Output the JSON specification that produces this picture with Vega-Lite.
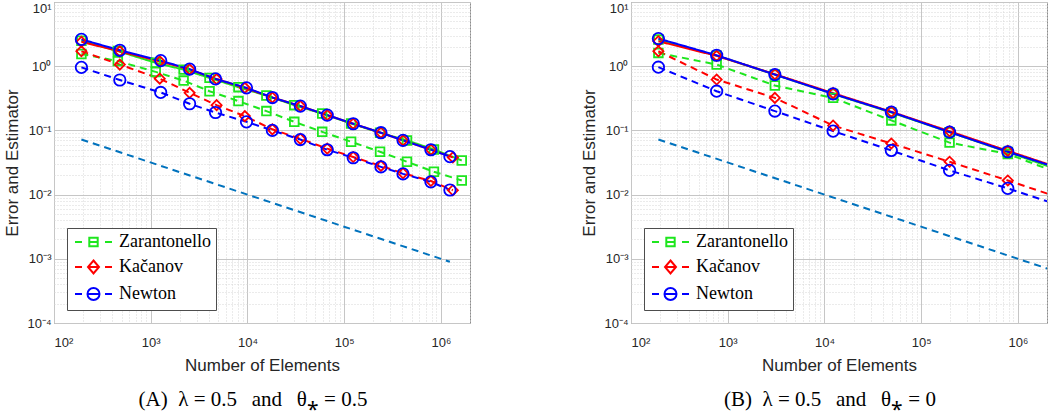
{
  "$schema": "https://vega.github.io/schema/vega-lite/v6.json",
  "padding": {"left": 3, "top": 1, "right": 2, "bottom": 2},
  "background": "white",
  "config": {
    "view": {"stroke": "#8c8c8c", "strokeWidth": 1},
    "axis": {
      "labelFont": "Liberation Sans", "labelFontSize": 13, "labelColor": "#262626",
      "titleFont": "Liberation Sans", "titleFontSize": 17, "titleFontWeight": "normal", "titleColor": "#262626",
      "domain": false, "ticks": false
    }
  },
  "datasets": {
    "A": [
      {"m":"ref","k":"ref","n":192,"v":0.0722},{"m":"ref","k":"ref","n":1240000,"v":0.000898},
      {"m":"Zarantonello","k":"err","n":192,"v":1.55},{"m":"Zarantonello","k":"err","n":457,"v":1.2},{"m":"Zarantonello","k":"err","n":1127,"v":0.815},{"m":"Zarantonello","k":"err","n":2188,"v":0.597},{"m":"Zarantonello","k":"err","n":4055,"v":0.408},{"m":"Zarantonello","k":"err","n":8070,"v":0.286},{"m":"Zarantonello","k":"err","n":15700,"v":0.2},{"m":"Zarantonello","k":"err","n":30500,"v":0.136},{"m":"Zarantonello","k":"err","n":59300,"v":0.095},{"m":"Zarantonello","k":"err","n":118000,"v":0.0665},{"m":"Zarantonello","k":"err","n":235000,"v":0.0465},{"m":"Zarantonello","k":"err","n":446000,"v":0.0325},{"m":"Zarantonello","k":"err","n":847000,"v":0.0227},{"m":"Zarantonello","k":"err","n":1644000,"v":0.0166},
      {"m":"Zarantonello","k":"est","n":192,"v":2.5},{"m":"Zarantonello","k":"est","n":457,"v":1.72},{"m":"Zarantonello","k":"est","n":1127,"v":1.13},{"m":"Zarantonello","k":"est","n":2188,"v":0.885},{"m":"Zarantonello","k":"est","n":4055,"v":0.658},{"m":"Zarantonello","k":"est","n":8070,"v":0.471},{"m":"Zarantonello","k":"est","n":15700,"v":0.349},{"m":"Zarantonello","k":"est","n":30500,"v":0.247},{"m":"Zarantonello","k":"est","n":59300,"v":0.183},{"m":"Zarantonello","k":"est","n":118000,"v":0.128},{"m":"Zarantonello","k":"est","n":235000,"v":0.092},{"m":"Zarantonello","k":"est","n":446000,"v":0.0697},{"m":"Zarantonello","k":"est","n":847000,"v":0.0505},{"m":"Zarantonello","k":"est","n":1644000,"v":0.034},
      {"m":"Kačanov","k":"err","n":192,"v":1.71},{"m":"Kačanov","k":"err","n":479,"v":1.06},{"m":"Kačanov","k":"err","n":1240,"v":0.64},{"m":"Kačanov","k":"err","n":2524,"v":0.385},{"m":"Kačanov","k":"err","n":4800,"v":0.247},{"m":"Kačanov","k":"err","n":9400,"v":0.167},{"m":"Kačanov","k":"err","n":18100,"v":0.104},{"m":"Kačanov","k":"err","n":35200,"v":0.074},{"m":"Kačanov","k":"err","n":66800,"v":0.052},{"m":"Kačanov","k":"err","n":124000,"v":0.0385},{"m":"Kačanov","k":"err","n":240000,"v":0.028},{"m":"Kačanov","k":"err","n":406000,"v":0.0215},{"m":"Kačanov","k":"err","n":788000,"v":0.0163},{"m":"Kačanov","k":"err","n":1330000,"v":0.0117},
      {"m":"Kačanov","k":"est","n":192,"v":2.4},{"m":"Kačanov","k":"est","n":479,"v":1.7},{"m":"Kačanov","k":"est","n":1240,"v":1.19},{"m":"Kačanov","k":"est","n":2524,"v":0.89},{"m":"Kačanov","k":"est","n":4800,"v":0.63},{"m":"Kačanov","k":"est","n":9400,"v":0.46},{"m":"Kačanov","k":"est","n":18100,"v":0.325},{"m":"Kačanov","k":"est","n":35200,"v":0.24},{"m":"Kačanov","k":"est","n":66800,"v":0.173},{"m":"Kačanov","k":"est","n":124000,"v":0.127},{"m":"Kačanov","k":"est","n":240000,"v":0.092},{"m":"Kačanov","k":"est","n":406000,"v":0.07},{"m":"Kačanov","k":"est","n":788000,"v":0.05},{"m":"Kačanov","k":"est","n":1330000,"v":0.038},
      {"m":"Newton","k":"err","n":192,"v":0.96},{"m":"Newton","k":"err","n":479,"v":0.61},{"m":"Newton","k":"err","n":1268,"v":0.39},{"m":"Newton","k":"err","n":2524,"v":0.26},{"m":"Newton","k":"err","n":4677,"v":0.19},{"m":"Newton","k":"err","n":9772,"v":0.136},{"m":"Newton","k":"err","n":18100,"v":0.1},{"m":"Newton","k":"err","n":35200,"v":0.072},{"m":"Newton","k":"err","n":66800,"v":0.05},{"m":"Newton","k":"err","n":124000,"v":0.0375},{"m":"Newton","k":"err","n":240000,"v":0.027},{"m":"Newton","k":"err","n":406000,"v":0.021},{"m":"Newton","k":"err","n":788000,"v":0.0158},{"m":"Newton","k":"err","n":1240000,"v":0.0118},
      {"m":"Newton","k":"est","n":192,"v":2.62},{"m":"Newton","k":"est","n":479,"v":1.77},{"m":"Newton","k":"est","n":1268,"v":1.22},{"m":"Newton","k":"est","n":2524,"v":0.9},{"m":"Newton","k":"est","n":4677,"v":0.634},{"m":"Newton","k":"est","n":9772,"v":0.46},{"m":"Newton","k":"est","n":18100,"v":0.325},{"m":"Newton","k":"est","n":35200,"v":0.239},{"m":"Newton","k":"est","n":66800,"v":0.173},{"m":"Newton","k":"est","n":124000,"v":0.127},{"m":"Newton","k":"est","n":240000,"v":0.092},{"m":"Newton","k":"est","n":406000,"v":0.07},{"m":"Newton","k":"est","n":788000,"v":0.05},{"m":"Newton","k":"est","n":1240000,"v":0.039}
    ],
    "B": [
      {"m":"ref","k":"ref","n":192,"v":0.0722},{"m":"ref","k":"ref","n":3145728,"v":0.000564},
      {"m":"Zarantonello","k":"err","n":192,"v":1.61},{"m":"Zarantonello","k":"err","n":768,"v":1.06},{"m":"Zarantonello","k":"err","n":3072,"v":0.5},{"m":"Zarantonello","k":"err","n":12288,"v":0.321},{"m":"Zarantonello","k":"err","n":49152,"v":0.143},{"m":"Zarantonello","k":"err","n":196608,"v":0.0645},{"m":"Zarantonello","k":"err","n":786432,"v":0.043},{"m":"Zarantonello","k":"err","n":3145728,"v":0.0195},
      {"m":"Zarantonello","k":"est","n":192,"v":2.6},{"m":"Zarantonello","k":"est","n":768,"v":1.46},{"m":"Zarantonello","k":"est","n":3072,"v":0.74},{"m":"Zarantonello","k":"est","n":12288,"v":0.37},{"m":"Zarantonello","k":"est","n":49152,"v":0.19},{"m":"Zarantonello","k":"est","n":196608,"v":0.094},{"m":"Zarantonello","k":"est","n":786432,"v":0.046},{"m":"Zarantonello","k":"est","n":3145728,"v":0.022},
      {"m":"Kačanov","k":"err","n":192,"v":1.71},{"m":"Kačanov","k":"err","n":768,"v":0.62},{"m":"Kačanov","k":"err","n":3072,"v":0.321},{"m":"Kačanov","k":"err","n":12288,"v":0.119},{"m":"Kačanov","k":"err","n":49152,"v":0.0625},{"m":"Kačanov","k":"err","n":196608,"v":0.0325},{"m":"Kačanov","k":"err","n":786432,"v":0.0166},{"m":"Kačanov","k":"err","n":3145728,"v":0.0083},
      {"m":"Kačanov","k":"est","n":192,"v":2.45},{"m":"Kačanov","k":"est","n":768,"v":1.45},{"m":"Kačanov","k":"est","n":3072,"v":0.75},{"m":"Kačanov","k":"est","n":12288,"v":0.38},{"m":"Kačanov","k":"est","n":49152,"v":0.195},{"m":"Kačanov","k":"est","n":196608,"v":0.097},{"m":"Kačanov","k":"est","n":786432,"v":0.048},{"m":"Kačanov","k":"est","n":3145728,"v":0.024},
      {"m":"Newton","k":"err","n":192,"v":0.965},{"m":"Newton","k":"err","n":768,"v":0.408},{"m":"Newton","k":"err","n":3072,"v":0.2},{"m":"Newton","k":"err","n":12288,"v":0.0975},{"m":"Newton","k":"err","n":49152,"v":0.0487},{"m":"Newton","k":"err","n":196608,"v":0.0238},{"m":"Newton","k":"err","n":786432,"v":0.0125},{"m":"Newton","k":"err","n":3145728,"v":0.0063},
      {"m":"Newton","k":"est","n":192,"v":2.69},{"m":"Newton","k":"est","n":768,"v":1.48},{"m":"Newton","k":"est","n":3072,"v":0.74},{"m":"Newton","k":"est","n":12288,"v":0.371},{"m":"Newton","k":"est","n":49152,"v":0.193},{"m":"Newton","k":"est","n":196608,"v":0.094},{"m":"Newton","k":"est","n":786432,"v":0.0465},{"m":"Newton","k":"est","n":3145728,"v":0.0236}
    ]
  },
  "spacing": 100,
  "resolve": {
    "scale": {"x": "independent", "y": "independent", "color": "independent", "shape": "independent", "size": "independent", "strokeDash": "independent"},
    "legend": {"color": "independent", "shape": "independent"}
  },
  "hconcat": [
    {
      "width": 416, "height": 321,
      "data": {"name": "A"},
      "title": {"text": "(A)\u2002λ\u2005=\u20050.5\u2002\u2009and\u2002\u2009θ⁎\u2005=\u20050.5", "orient": "bottom", "anchor": "middle", "font": "Liberation Serif", "fontSize": 21, "fontWeight": "normal", "color": "#000000", "offset": 16, "dx": -9},
      "resolve": {
        "scale": {"color": "independent", "shape": "independent", "size": "independent", "strokeDash": "independent"},
        "axis": {"x": "independent", "y": "independent"},
        "legend": {"color": "independent", "shape": "independent"}
      },
      "layer": [
        {
          "mark": {"type": "line", "strokeWidth": 2, "clip": true},
          "encoding": {
            "x": {"field": "n", "type": "quantitative", "scale": {"type": "log", "domain": [100, 2000000], "nice": false},
                  "axis": {"orient": "bottom", "values": [100, 1000, 10000, 100000, 1000000], "grid": true, "gridColor": "#c6c6c6", "gridWidth": 1, "labelPadding": 13, "titlePadding": 8, "title": "Number of Elements",
                           "labelExpr": "datum.value < 500 ? '10²' : datum.value < 5000 ? '10³' : datum.value < 50000 ? '10⁴' : datum.value < 500000 ? '10⁵' : '10⁶'"}},
            "y": {"field": "v", "type": "quantitative", "scale": {"type": "log", "domain": [0.0001, 10], "nice": false},
                  "axis": {"orient": "left", "values": [0.0001, 0.001, 0.01, 0.1, 1, 10], "grid": true, "gridColor": "#c6c6c6", "gridWidth": 1, "labelPadding": 3, "titlePadding": 5, "title": "Error and Estimator",
                           "labelBaseline": {"condition": {"test": "datum.value > 5", "value": "top"}, "value": "middle"},
                           "labelExpr": "datum.value < 0.0005 ? '10⁻⁴' : datum.value < 0.005 ? '10⁻³' : datum.value < 0.05 ? '10⁻²' : datum.value < 0.5 ? '10⁻¹' : datum.value < 5 ? '10⁰' : '10¹'"}},
            "color": {"field": "m", "type": "nominal", "scale": {"domain": ["Zarantonello", "Kačanov", "Newton", "ref"], "range": ["#1ee61e", "#ff0000", "#0000ff", "#0072bd"]}, "legend": null},
            "strokeDash": {"field": "k", "type": "nominal", "scale": {"domain": ["est", "err", "ref"], "range": [[1, 0], [7, 5], [7, 5]]}, "legend": null}
          }
        },
        {
          "transform": [{"filter": "datum.k != 'ref'"}],
          "mark": {"type": "point", "filled": false, "strokeWidth": 1.8, "opacity": 1, "clip": true},
          "encoding": {
            "x": {"field": "n", "type": "quantitative", "scale": {"type": "log", "domain": [100, 2000000], "nice": false},
                  "axis": {"orient": "bottom", "values": [200,300,400,500,600,700,800,900,2000,3000,4000,5000,6000,7000,8000,9000,20000,30000,40000,50000,60000,70000,80000,90000,200000,300000,400000,500000,600000,700000,800000,900000,2000000], "grid": true, "gridColor": "#d6d6d6", "gridDash": [1, 2], "labels": false, "title": null}},
            "y": {"field": "v", "type": "quantitative", "scale": {"type": "log", "domain": [0.0001, 10], "nice": false},
                  "axis": {"orient": "left", "values": [0.0002,0.0003,0.0004,0.0005,0.0006,0.0007,0.0008,0.0009,0.002,0.003,0.004,0.005,0.006,0.007,0.008,0.009,0.02,0.03,0.04,0.05,0.06,0.07,0.08,0.09,0.2,0.3,0.4,0.5,0.6,0.7,0.8,0.9,2,3,4,5,6,7,8,9], "grid": true, "gridColor": "#d6d6d6", "gridDash": [1, 2], "labels": false, "title": null}},
            "color": {"field": "m", "type": "nominal", "scale": {"domain": ["Zarantonello", "Kačanov", "Newton"], "range": ["#1ee61e", "#ff0000", "#0000ff"]}, "legend": null},
            "shape": {"field": "m", "type": "nominal", "scale": {"domain": ["Zarantonello", "Kačanov", "Newton"], "range": ["square", "diamond", "circle"]}, "legend": null},
            "size": {"field": "m", "type": "nominal", "scale": {"domain": ["Zarantonello", "Kačanov", "Newton"], "range": [75, 130, 150]}, "legend": null}
          }
        },
        {
          "transform": [{"filter": "datum.k == 'est'"}],
          "mark": {"type": "point", "filled": false, "opacity": 0, "strokeWidth": 2},
          "encoding": {
            "x": {"field": "n", "type": "quantitative", "axis": null},
            "y": {"field": "v", "type": "quantitative", "axis": null},
            "color": {"field": "m", "type": "nominal", "scale": {"domain": ["Zarantonello", "Kačanov", "Newton"], "range": ["#1ee61e", "#ff0000", "#0000ff"]},
                      "legend": {"title": null, "orient": "bottom-left", "offset": 13, "padding": 5, "fillColor": "white", "strokeColor": "#4d4d4d", "symbolSize": 100, "symbolStrokeWidth": 2, "symbolOpacity": 1, "labelFont": "Liberation Serif", "labelFontSize": 18, "labelColor": "#000000", "labelOffset": 29, "rowPadding": 5, "labelLimit": 300}},
            "shape": {"field": "m", "type": "nominal", "scale": {"domain": ["Zarantonello", "Kačanov", "Newton"], "range": [
                "M-1.2,0H0.2M1.66,0H3.34M4.8,0H6.2M1.66,-0.84H3.34V0.84H1.66Z",
                "M-1.2,0H0.2M1.4,0H3.6M4.8,0H6.2M2.5,-1.3L3.6,0L2.5,1.3L1.4,0Z",
                "M-1.2,0H0.2M1.3,0H3.7M4.8,0H6.2M3.7,0A1.2,1.2,0,1,1,1.3,0A1.2,1.2,0,1,1,3.7,0Z"]},
                      "legend": {"title": null, "orient": "bottom-left", "offset": 13, "padding": 5, "fillColor": "white", "strokeColor": "#4d4d4d", "symbolSize": 100, "symbolStrokeWidth": 2, "symbolOpacity": 1, "labelFont": "Liberation Serif", "labelFontSize": 18, "labelColor": "#000000", "labelOffset": 29, "rowPadding": 5, "labelLimit": 300}}
          }
        }
      ]
    },
    {
      "width": 416, "height": 321,
      "data": {"name": "B"},
      "title": {"text": "(B)\u2002λ\u2005=\u20050.5\u2002\u2009and\u2002\u2009θ⁎\u2005=\u20050", "orient": "bottom", "anchor": "middle", "font": "Liberation Serif", "fontSize": 21, "fontWeight": "normal", "color": "#000000", "offset": 16, "dx": -9},
      "resolve": {
        "scale": {"color": "independent", "shape": "independent", "size": "independent", "strokeDash": "independent"},
        "axis": {"x": "independent", "y": "independent"},
        "legend": {"color": "independent", "shape": "independent"}
      },
      "layer": [
        {
          "mark": {"type": "line", "strokeWidth": 2, "clip": true},
          "encoding": {
            "x": {"field": "n", "type": "quantitative", "scale": {"type": "log", "domain": [100, 2000000], "nice": false},
                  "axis": {"orient": "bottom", "values": [100, 1000, 10000, 100000, 1000000], "grid": true, "gridColor": "#c6c6c6", "gridWidth": 1, "labelPadding": 13, "titlePadding": 8, "title": "Number of Elements",
                           "labelExpr": "datum.value < 500 ? '10²' : datum.value < 5000 ? '10³' : datum.value < 50000 ? '10⁴' : datum.value < 500000 ? '10⁵' : '10⁶'"}},
            "y": {"field": "v", "type": "quantitative", "scale": {"type": "log", "domain": [0.0001, 10], "nice": false},
                  "axis": {"orient": "left", "values": [0.0001, 0.001, 0.01, 0.1, 1, 10], "grid": true, "gridColor": "#c6c6c6", "gridWidth": 1, "labelPadding": 3, "titlePadding": 5, "title": "Error and Estimator",
                           "labelBaseline": {"condition": {"test": "datum.value > 5", "value": "top"}, "value": "middle"},
                           "labelExpr": "datum.value < 0.0005 ? '10⁻⁴' : datum.value < 0.005 ? '10⁻³' : datum.value < 0.05 ? '10⁻²' : datum.value < 0.5 ? '10⁻¹' : datum.value < 5 ? '10⁰' : '10¹'"}},
            "color": {"field": "m", "type": "nominal", "scale": {"domain": ["Zarantonello", "Kačanov", "Newton", "ref"], "range": ["#1ee61e", "#ff0000", "#0000ff", "#0072bd"]}, "legend": null},
            "strokeDash": {"field": "k", "type": "nominal", "scale": {"domain": ["est", "err", "ref"], "range": [[1, 0], [7, 5], [7, 5]]}, "legend": null}
          }
        },
        {
          "transform": [{"filter": "datum.k != 'ref'"}],
          "mark": {"type": "point", "filled": false, "strokeWidth": 1.8, "opacity": 1, "clip": true},
          "encoding": {
            "x": {"field": "n", "type": "quantitative", "scale": {"type": "log", "domain": [100, 2000000], "nice": false},
                  "axis": {"orient": "bottom", "values": [200,300,400,500,600,700,800,900,2000,3000,4000,5000,6000,7000,8000,9000,20000,30000,40000,50000,60000,70000,80000,90000,200000,300000,400000,500000,600000,700000,800000,900000,2000000], "grid": true, "gridColor": "#d6d6d6", "gridDash": [1, 2], "labels": false, "title": null}},
            "y": {"field": "v", "type": "quantitative", "scale": {"type": "log", "domain": [0.0001, 10], "nice": false},
                  "axis": {"orient": "left", "values": [0.0002,0.0003,0.0004,0.0005,0.0006,0.0007,0.0008,0.0009,0.002,0.003,0.004,0.005,0.006,0.007,0.008,0.009,0.02,0.03,0.04,0.05,0.06,0.07,0.08,0.09,0.2,0.3,0.4,0.5,0.6,0.7,0.8,0.9,2,3,4,5,6,7,8,9], "grid": true, "gridColor": "#d6d6d6", "gridDash": [1, 2], "labels": false, "title": null}},
            "color": {"field": "m", "type": "nominal", "scale": {"domain": ["Zarantonello", "Kačanov", "Newton"], "range": ["#1ee61e", "#ff0000", "#0000ff"]}, "legend": null},
            "shape": {"field": "m", "type": "nominal", "scale": {"domain": ["Zarantonello", "Kačanov", "Newton"], "range": ["square", "diamond", "circle"]}, "legend": null},
            "size": {"field": "m", "type": "nominal", "scale": {"domain": ["Zarantonello", "Kačanov", "Newton"], "range": [75, 130, 150]}, "legend": null}
          }
        },
        {
          "transform": [{"filter": "datum.k == 'est'"}],
          "mark": {"type": "point", "filled": false, "opacity": 0, "strokeWidth": 2, "clip": true},
          "encoding": {
            "x": {"field": "n", "type": "quantitative", "axis": null},
            "y": {"field": "v", "type": "quantitative", "axis": null},
            "color": {"field": "m", "type": "nominal", "scale": {"domain": ["Zarantonello", "Kačanov", "Newton"], "range": ["#1ee61e", "#ff0000", "#0000ff"]},
                      "legend": {"title": null, "orient": "bottom-left", "offset": 13, "padding": 5, "fillColor": "white", "strokeColor": "#4d4d4d", "symbolSize": 100, "symbolStrokeWidth": 2, "symbolOpacity": 1, "labelFont": "Liberation Serif", "labelFontSize": 18, "labelColor": "#000000", "labelOffset": 29, "rowPadding": 5, "labelLimit": 300}},
            "shape": {"field": "m", "type": "nominal", "scale": {"domain": ["Zarantonello", "Kačanov", "Newton"], "range": [
                "M-1.2,0H0.2M1.66,0H3.34M4.8,0H6.2M1.66,-0.84H3.34V0.84H1.66Z",
                "M-1.2,0H0.2M1.4,0H3.6M4.8,0H6.2M2.5,-1.3L3.6,0L2.5,1.3L1.4,0Z",
                "M-1.2,0H0.2M1.3,0H3.7M4.8,0H6.2M3.7,0A1.2,1.2,0,1,1,1.3,0A1.2,1.2,0,1,1,3.7,0Z"]},
                      "legend": {"title": null, "orient": "bottom-left", "offset": 13, "padding": 5, "fillColor": "white", "strokeColor": "#4d4d4d", "symbolSize": 100, "symbolStrokeWidth": 2, "symbolOpacity": 1, "labelFont": "Liberation Serif", "labelFontSize": 18, "labelColor": "#000000", "labelOffset": 29, "rowPadding": 5, "labelLimit": 300}}
          }
        }
      ]
    }
  ]
}
